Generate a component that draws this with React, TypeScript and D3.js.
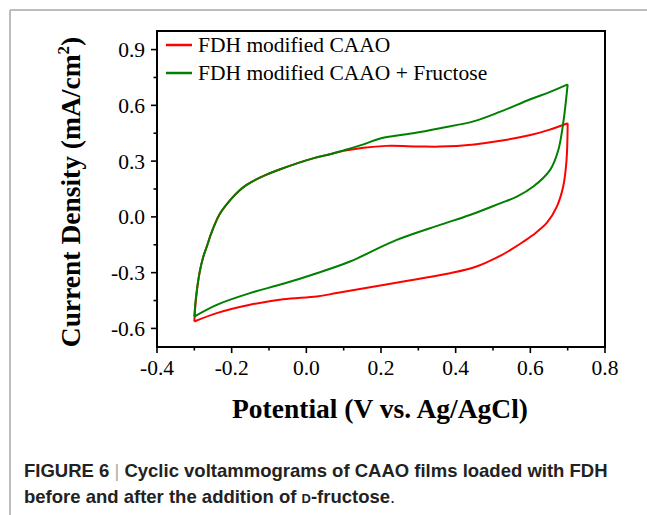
import React from "react";
import * as d3 from "d3";

const xMajorTicks = [-0.4, -0.2, 0.0, 0.2, 0.4, 0.6, 0.8];
const xMinorTicks = [-0.3, -0.1, 0.1, 0.3, 0.5, 0.7];
const yMajorTicks = [-0.6, -0.3, 0.0, 0.3, 0.6, 0.9];
const yMinorTicks = [-0.45, -0.15, 0.15, 0.45, 0.75];

// FDH modified CAAO (red)
const redFwdV = [-0.3, -0.296, -0.286, -0.276, -0.265, -0.255, -0.232, -0.204, -0.18, -0.16, -0.12, -0.07, 0.02, 0.063, 0.1, 0.153, 0.215, 0.3, 0.358, 0.45, 0.52, 0.6, 0.65, 0.7];
const redFwdJ = [-0.563, -0.45, -0.3, -0.215, -0.15, -0.09, 0.015, 0.09, 0.14, 0.172, 0.215, 0.256, 0.316, 0.337, 0.355, 0.372, 0.382, 0.379, 0.378, 0.39, 0.409, 0.44, 0.468, 0.504];
const redRevV = [0.7, 0.697, 0.688, 0.671, 0.645, 0.615, 0.58, 0.545, 0.519, 0.452, 0.385, 0.296, 0.206, 0.081, 0.028, -0.062, -0.151, -0.24, -0.3];
const redRevJ = [0.504, 0.306, 0.163, 0.055, -0.03, -0.085, -0.135, -0.18, -0.21, -0.27, -0.303, -0.335, -0.366, -0.41, -0.428, -0.443, -0.473, -0.518, -0.563];

// FDH modified CAAO + Fructose (green)
const greenFwdV = [-0.3, -0.296, -0.286, -0.276, -0.265, -0.255, -0.232, -0.204, -0.18, -0.16, -0.12, -0.07, 0.02, 0.063, 0.1, 0.153, 0.2, 0.286, 0.358, 0.45, 0.52, 0.6, 0.65, 0.7];
const greenFwdJ = [-0.536, -0.44, -0.3, -0.215, -0.15, -0.09, 0.015, 0.09, 0.14, 0.172, 0.215, 0.256, 0.316, 0.337, 0.358, 0.39, 0.423, 0.45, 0.477, 0.515, 0.566, 0.633, 0.67, 0.713];
const greenRevV = [0.7, 0.688, 0.675, 0.653, 0.608, 0.564, 0.519, 0.438, 0.358, 0.242, 0.117, 0.028, -0.062, -0.151, -0.24, -0.3];
const greenRevJ = [0.713, 0.504, 0.36, 0.253, 0.163, 0.109, 0.073, 0.01, -0.043, -0.124, -0.24, -0.303, -0.36, -0.41, -0.473, -0.536];

const seriesNames = ["FDH modified CAAO", "FDH modified CAAO + Fructose"];
const seriesColors = ["#ff0000", "#008000"];

const W = 647;
const H = 515;
const plot = { left: 157, right: 605, top: 31, bottom: 347 };

export default function App() {
  const x = d3.scaleLinear().domain([-0.4, 0.8]).range([plot.left, plot.right]);
  const y = d3.scaleLinear().domain([-0.7, 1.0]).range([plot.bottom, plot.top]);
  const line = d3
    .line<[number, number]>()
    .x((d) => x(d[0]))
    .y((d) => y(d[1]))
    .curve(d3.curveCatmullRom.alpha(0.5));
  const zip = (a: number[], b: number[]) => a.map((v, i) => [v, b[i]] as [number, number]);

  const series = [
    [zip(redFwdV, redFwdJ), zip(redRevV, redRevJ)],
    [zip(greenFwdV, greenFwdJ), zip(greenRevV, greenRevJ)],
  ];

  const serif = "'Liberation Serif', 'Times New Roman', serif";
  const sans = "'Liberation Sans', Arial, sans-serif";
  const fmt = (t: number) => t.toFixed(1).replace("-0.0", "0.0");

  return (
    <svg width={W} height={H} style={{ position: "absolute", left: 0, top: 0 }} xmlns="http://www.w3.org/2000/svg">
      <rect x={0} y={0} width={W} height={H} fill="#fff" />
      {/* gray page border */}
      <line x1={10} y1={10} x2={W} y2={10} stroke="#bdbdbd" strokeWidth={2} />
      <line x1={10} y1={10} x2={10} y2={H} stroke="#bdbdbd" strokeWidth={2} />

      {/* curves */}
      {series.map((branches, si) =>
        branches.map((pts, bi) => (
          <path key={`${si}-${bi}`} d={line(pts) || ""} fill="none" stroke={seriesColors[si]} strokeWidth={2} strokeLinejoin="miter" />
        ))
      )}

      {/* frame */}
      <rect x={plot.left} y={plot.top} width={plot.right - plot.left} height={plot.bottom - plot.top} fill="none" stroke="#000" strokeWidth={2} />

      {/* x ticks */}
      {xMajorTicks.map((t) => (
        <g key={`xm${t}`}>
          <line x1={x(t)} x2={x(t)} y1={plot.bottom} y2={plot.bottom + 6} stroke="#000" strokeWidth={1.6} />
          <text x={x(t)} y={375} textAnchor="middle" fontFamily={serif} fontSize={21.5} fill="#000">
            {fmt(t)}
          </text>
        </g>
      ))}
      {xMinorTicks.map((t) => (
        <line key={`xn${t}`} x1={x(t)} x2={x(t)} y1={plot.bottom} y2={plot.bottom + 3.5} stroke="#000" strokeWidth={1.6} />
      ))}

      {/* y ticks */}
      {yMajorTicks.map((t) => (
        <g key={`ym${t}`}>
          <line x1={plot.left - 6} x2={plot.left} y1={y(t)} y2={y(t)} stroke="#000" strokeWidth={1.6} />
          <text x={145} y={y(t) + 7.5} textAnchor="end" fontFamily={serif} fontSize={21.5} fill="#000">
            {fmt(t)}
          </text>
        </g>
      ))}
      {yMinorTicks.map((t) => (
        <line key={`yn${t}`} x1={plot.left - 3.5} x2={plot.left} y1={y(t)} y2={y(t)} stroke="#000" strokeWidth={1.6} />
      ))}

      {/* legend */}
      {seriesNames.map((name, i) => (
        <g key={name}>
          <line x1={166} x2={192} y1={45 + i * 28} y2={45 + i * 28} stroke={seriesColors[i]} strokeWidth={2.5} />
          <text x={198} y={45 + i * 28 + 7} fontFamily={serif} fontSize={21.5} fill="#000">
            {name}
          </text>
        </g>
      ))}

      {/* axis titles */}
      <text x={380} y={418} textAnchor="middle" fontFamily={serif} fontWeight="bold" fontSize={27.5} fill="#000">
        Potential (V vs. Ag/AgCl)
      </text>
      <text transform={`translate(80, ${(plot.top + plot.bottom) / 2 + 3}) rotate(-90)`} textAnchor="middle" fontFamily={serif} fontWeight="bold" fontSize={27.5} fill="#000">
        Current Density (mA/cm<tspan dy={-11} fontSize={17}>2</tspan><tspan dy={11}>)</tspan>
      </text>

      {/* caption */}
      <text x={24} y={477} fontFamily={sans} fontWeight="bold" fontSize={18.5} fill="#222">
        FIGURE 6 <tspan fill="#aaa" fontWeight="normal">|</tspan> Cyclic voltammograms of CAAO films loaded with FDH
      </text>
      <text x={24} y={503} fontFamily={sans} fontWeight="bold" fontSize={18.5} fill="#222">
        before and after the addition of <tspan fontSize={13}>D</tspan>-fructose<tspan fontWeight="normal">.</tspan>
      </text>
    </svg>
  );
}
